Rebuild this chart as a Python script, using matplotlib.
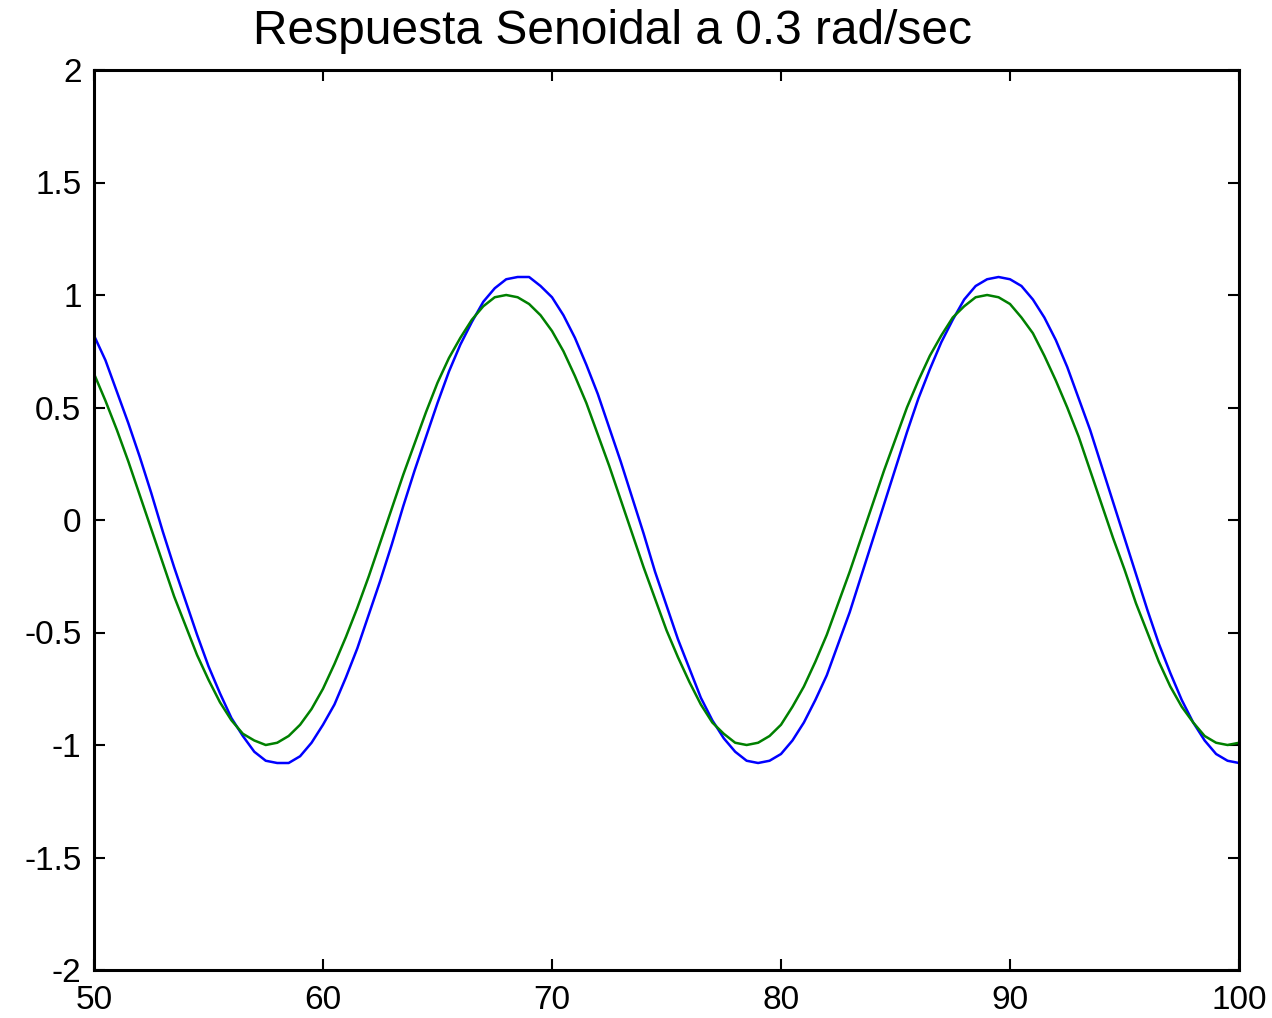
import matplotlib.pyplot as plt

# sample times (every half second)
t = [50 + 0.5 * i for i in range(101)]

# input sine (green)
entrada = [0.65, 0.53, 0.40, 0.26, 0.11, -0.04, -0.19, -0.34, -0.47, -0.60,
           -0.71, -0.81, -0.89, -0.95, -0.98, -1.00, -0.99, -0.96, -0.91, -0.84,
           -0.75, -0.64, -0.52, -0.39, -0.25, -0.10, 0.05, 0.20, 0.34, 0.48,
           0.61, 0.72, 0.81, 0.89, 0.95, 0.99, 1.00, 0.99, 0.96, 0.91,
           0.84, 0.75, 0.64, 0.52, 0.38, 0.24, 0.09, -0.06, -0.21, -0.35,
           -0.49, -0.61, -0.72, -0.82, -0.90, -0.95, -0.99, -1.00, -0.99, -0.96,
           -0.91, -0.83, -0.74, -0.63, -0.51, -0.37, -0.23, -0.08, 0.07, 0.22,
           0.36, 0.50, 0.62, 0.73, 0.82, 0.90, 0.95, 0.99, 1.00, 0.99,
           0.96, 0.90, 0.83, 0.73, 0.62, 0.50, 0.37, 0.22, 0.07, -0.08,
           -0.22, -0.37, -0.50, -0.63, -0.74, -0.83, -0.90, -0.96, -0.99, -1.00,
           -0.99]

# system output (blue)
salida = [0.82, 0.71, 0.57, 0.43, 0.28, 0.12, -0.05, -0.21, -0.36, -0.51,
          -0.65, -0.77, -0.88, -0.96, -1.03, -1.07, -1.08, -1.08, -1.05, -0.99,
          -0.91, -0.82, -0.70, -0.57, -0.42, -0.27, -0.11, 0.06, 0.22, 0.37,
          0.52, 0.66, 0.78, 0.88, 0.97, 1.03, 1.07, 1.08, 1.08, 1.04,
          0.99, 0.91, 0.81, 0.69, 0.56, 0.41, 0.26, 0.10, -0.06, -0.23,
          -0.38, -0.53, -0.66, -0.79, -0.89, -0.97, -1.03, -1.07, -1.08, -1.07,
          -1.04, -0.98, -0.90, -0.80, -0.69, -0.55, -0.41, -0.25, -0.09, 0.07,
          0.23, 0.39, 0.54, 0.67, 0.79, 0.89, 0.98, 1.04, 1.07, 1.08,
          1.07, 1.04, 0.98, 0.90, 0.80, 0.68, 0.54, 0.40, 0.24, 0.08,
          -0.08, -0.24, -0.40, -0.55, -0.68, -0.80, -0.90, -0.98, -1.04, -1.07,
          -1.08]

xticks = [50, 60, 70, 80, 90, 100]
yticks = [-2, -1.5, -1, -0.5, 0, 0.5, 1, 1.5, 2]

plt.rcParams['font.family'] = ['Liberation Sans', 'DejaVu Sans']

fig = plt.figure(figsize=(12.72, 10.18), dpi=100)
ax = fig.add_axes([94 / 1272, 1 - 970 / 1018, (1239 - 94) / 1272, (970 - 70) / 1018])

ax.plot(t, salida, color='#0000ff', lw=1.8)
ax.plot(t, entrada, color='#008000', lw=1.8)

ax.set_xlim(50, 100)
ax.set_ylim(-2, 2)
ax.set_xticks(xticks)
ax.set_yticks(yticks)
ax.set_xticklabels([str(v) for v in xticks])
ax.set_yticklabels([f'{v:g}' for v in yticks])

ax.tick_params(direction='in', length=8, width=1.5, labelsize=24,
               top=True, right=True)
ax.tick_params(axis='x', pad=11)
ax.tick_params(axis='y', pad=9)
for s in ax.spines.values():
    s.set_linewidth(2.2)

fig.text(612 / 1272, 1 - 32 / 1018, 'Respuesta Senoidal a 0.3 rad/sec',
         fontsize=34.5, ha='center', va='center')

fig.savefig('out.png', dpi=100)
